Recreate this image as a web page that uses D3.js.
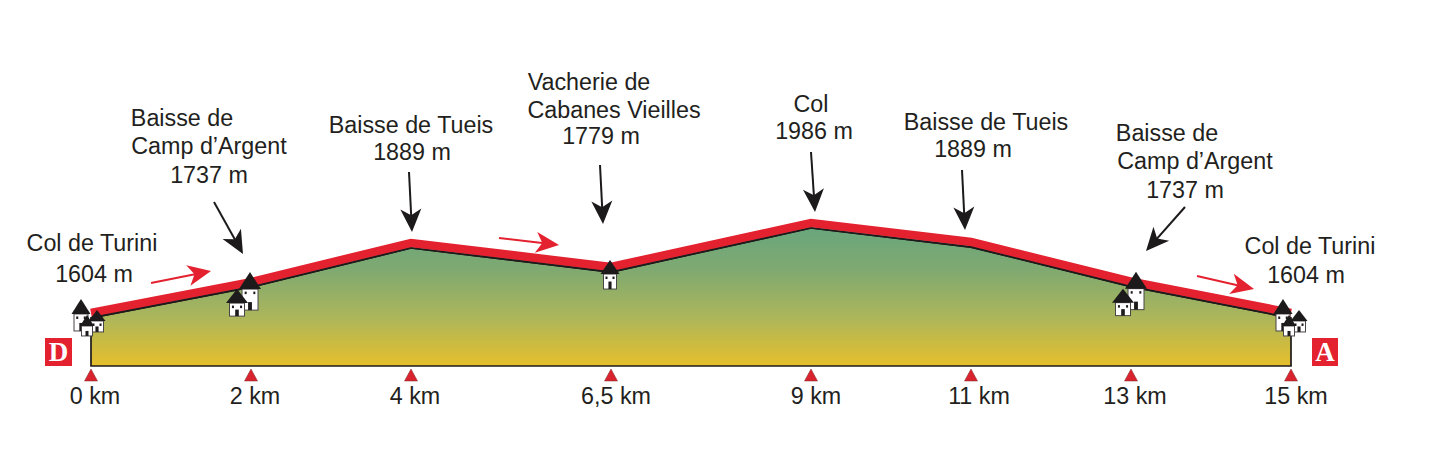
<!DOCTYPE html>
<html>
<head>
<meta charset="utf-8">
<title>Col de Turini</title>
<script src="https://d3js.org/d3.v7.min.js"></script>
<style>
	html, body { margin: 0; padding: 0; background: #fff; }
	svg { display: block; }
	text { font-family: "Liberation Sans", Arial, sans-serif; fill: #231f20; }
</style>
</head>
<body>
<script>

// values
var kmValues = [0, 2, 4, 6.5, 9, 11, 13, 15];
var kmLabels = ["0 km", "2 km", "4 km", "6,5 km", "9 km", "11 km", "13 km", "15 km"];
// the drawn profile does not follow the printed altitudes exactly
var profileAlt = [1604, 1735, 1901, 1799, 1986, 1905, 1737, 1604];
var placeNames = [
	["Col de Turini", "1604 m"],
	["Baisse de", "Camp d\u2019Argent", "1737 m"],
	["Baisse de Tueis", "1889 m"],
	["Vacherie de", "Cabanes Vieilles", "1779 m"],
	["Col", "1986 m"],
	["Baisse de Tueis", "1889 m"],
	["Baisse de", "Camp d\u2019Argent", "1737 m"],
	["Col de Turini", "1604 m"]
];

var width = 1443, height = 466;
var baseY = 366;
var fontSize = 23.3;

var x = d3.scaleLinear().domain([0, 15]).range([91, 1291]);
var y = d3.scaleLinear().domain([1400, 1986]).range([baseY, 228]);

var red = "#e3212f", black = "#1d1a1b";

var svg = d3.select("body").append("svg")
	.attr("width", width)
	.attr("height", height);

var profile = kmValues.map(function(d, i) { return {km: d, alt: profileAlt[i]}; });

var grad = svg.append("defs").append("linearGradient")
	.attr("id", "relief")
	.attr("gradientUnits", "userSpaceOnUse")
	.attr("x1", 0).attr("x2", 0)
	.attr("y1", y(1986)).attr("y2", baseY);
grad.append("stop").attr("offset", "0%").attr("stop-color", "#69a67c");
grad.append("stop").attr("offset", "30%").attr("stop-color", "#7fa971");
grad.append("stop").attr("offset", "65%").attr("stop-color", "#acb65a");
grad.append("stop").attr("offset", "100%").attr("stop-color", "#e6bf2c");

var area = d3.area()
	.x(function(d) { return x(d.km); })
	.y0(baseY)
	.y1(function(d) { return y(d.alt); });

var line = d3.line()
	.x(function(d) { return x(d.km); })
	.y(function(d) { return y(d.alt); });

svg.append("path").datum(profile)
	.attr("d", area)
	.attr("fill", "url(#relief)")
	.attr("stroke", black)
	.attr("stroke-width", 1.7);

// red road above the black outline
svg.append("path").datum(profile)
	.attr("d", line)
	.attr("transform", "translate(0,-5)")
	.attr("fill", "none")
	.attr("stroke", red)
	.attr("stroke-width", 8.6);

svg.append("path").datum(profile)
	.attr("d", line)
	.attr("fill", "none")
	.attr("stroke", black)
	.attr("stroke-width", 1.7);

// km triangles and labels
var tickLabelDx = [4, 4, 4, 5, 5, 8, 4, 5];
svg.selectAll("path.tick").data(kmValues).enter().append("path")
	.attr("class", "tick")
	.attr("d", "M0,0L6.5,12L-6.5,12Z")
	.attr("transform", function(d) { return "translate(" + x(d) + ",369)"; })
	.attr("fill", "#d9232e")
	.attr("stroke", "#7d2a2a")
	.attr("stroke-width", 0.5);

svg.selectAll("text.km").data(kmLabels).enter().append("text")
	.attr("class", "km")
	.attr("x", function(d, i) { return x(kmValues[i]) + tickLabelDx[i]; })
	.attr("y", 404)
	.attr("text-anchor", "middle")
	.attr("font-size", fontSize)
	.text(function(d) { return d; });

// place names, line by line
var nameX = [
	[92, 94],
	[182, 209, 209],
	[411, 412],
	[589, 614, 601],
	[811, 814],
	[986, 973],
	[1167, 1195, 1185],
	[1310, 1306]
];
var nameY = [
	[251, 282],
	[126, 154, 183],
	[133, 160],
	[90, 118, 144],
	[112, 139],
	[130, 157],
	[141, 169, 198],
	[254, 283]
];
placeNames.forEach(function(lines, i) {
	svg.selectAll("text.name" + i).data(lines).enter().append("text")
		.attr("class", "name" + i)
		.attr("x", function(d, j) { return nameX[i][j]; })
		.attr("y", function(d, j) { return nameY[i][j]; })
		.attr("text-anchor", "middle")
		.attr("font-size", fontSize)
		.text(function(d) { return d; });
});

// arrows: local shape points along +x with the tip at the end
function arrow(x1, y1, x2, y2, color, w, head) {
	var len = Math.sqrt((x2 - x1) * (x2 - x1) + (y2 - y1) * (y2 - y1));
	var ang = Math.atan2(y2 - y1, x2 - x1) * 180 / Math.PI;
	var g = svg.append("g").attr("transform", "translate(" + x1 + "," + y1 + ") rotate(" + ang + ")");
	g.append("line")
		.attr("x1", 0).attr("y1", 0)
		.attr("x2", len - head * 0.6).attr("y2", 0)
		.attr("stroke", color)
		.attr("stroke-width", w);
	g.append("path")
		.attr("d", "M" + len + ",0L" + (len - head * 1.1) + "," + (-head * 0.5) + "L" + (len - head * 0.8) + ",0L" + (len - head * 1.1) + "," + (head * 0.5) + "Z")
		.attr("fill", color);
}
[[214, 202, 243, 254], [409, 172, 412, 232], [600, 165, 603, 224], [811, 152, 815, 212], [962, 170, 965, 230], [1185, 207, 1146, 251]].forEach(function(a) {
	arrow(a[0], a[1], a[2], a[3], black, 2, 21);
});
[[151, 283, 211, 271], [499, 238, 559, 245], [1197, 276, 1254, 289]].forEach(function(a) {
	arrow(a[0], a[1], a[2], a[3], red, 2, 21);
});

// little houses, placed relative to the profile point
function house(cx, top, roofW, roofH, bodyW, bodyH) {
	var g = svg.append("g").attr("transform", "translate(" + cx + "," + top + ")");
	g.append("rect")
		.attr("x", -bodyW / 2).attr("y", roofH)
		.attr("width", bodyW).attr("height", bodyH)
		.attr("fill", "#fff")
		.attr("stroke", "#4a4546")
		.attr("stroke-width", 1);
	g.append("path")
		.attr("d", "M0,0L" + (roofW / 2) + "," + roofH + "L" + (-roofW / 2) + "," + roofH + "Z")
		.attr("fill", black);
	// door and windows
	var dw = Math.max(3, bodyW * 0.24);
	var dh = Math.min(bodyH * 0.5, 8);
	g.append("rect")
		.attr("x", -dw / 2).attr("y", roofH + bodyH - dh)
		.attr("width", dw).attr("height", dh)
		.attr("fill", black);
	if (bodyH > 10) {
		[-1, 1].forEach(function(s) {
			g.append("rect")
				.attr("x", s * bodyW * 0.27 - 1).attr("y", roofH + 2.5)
				.attr("width", 2).attr("height", 2.5)
				.attr("fill", black);
		});
	}
}
function village3(px, py, flip) {
	house(px - 10 + flip, py - 19, 19, 15, 14, 17);
	house(px + 6 + flip, py - 8, 17, 11, 13, 11);
	house(px - 4 + flip, py - 3, 14, 11, 11, 10);
}
function village2(px, py) {
	house(px - 1, py - 15, 22, 17, 16, 21);
	house(px - 14, py + 2, 22, 14, 15, 13);
}
village3(x(0), y(1604), 0);
village2(x(2), y(1735));
house(x(6.5) - 1, y(1799) - 12, 19, 14, 13, 15);
village2(x(13) + 6, y(1737));
village3(x(15), y(1604), 2);

// start and finish flags
var flags = [{t: "D", x: 45, w: 27}, {t: "A", x: 1312, w: 26}];
svg.selectAll("rect.flag").data(flags).enter().append("rect")
	.attr("class", "flag")
	.attr("x", function(d) { return d.x; })
	.attr("y", 338)
	.attr("width", function(d) { return d.w; })
	.attr("height", 28)
	.attr("fill", red);
svg.selectAll("text.flag").data(flags).enter().append("text")
	.attr("class", "flag")
	.attr("x", function(d) { return d.x + d.w / 2; })
	.attr("y", 361)
	.attr("text-anchor", "middle")
	.attr("font-size", 27)
	.attr("font-weight", "bold")
	.style("font-family", "'Liberation Serif', serif")
	.style("fill", "#fff")
	.text(function(d) { return d.t; });

</script>
</body>
</html>
